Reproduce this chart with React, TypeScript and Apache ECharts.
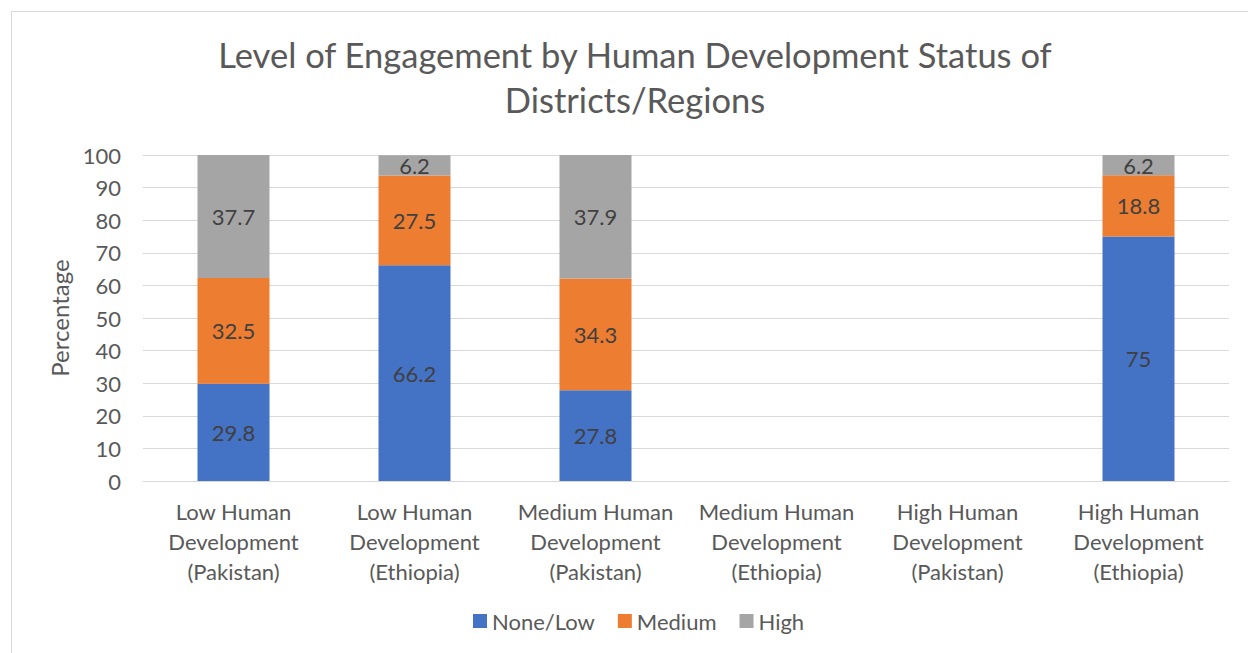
import React, { useEffect, useRef } from "react";
import * as echarts from "echarts";

const categories = [
  "Low Human\nDevelopment\n(Pakistan)",
  "Low Human\nDevelopment\n(Ethiopia)",
  "Medium Human\nDevelopment\n(Pakistan)",
  "Medium Human\nDevelopment\n(Ethiopia)",
  "High Human\nDevelopment\n(Pakistan)",
  "High Human\nDevelopment\n(Ethiopia)",
];
const noneLow: (number | null)[] = [29.8, 66.2, 27.8, null, null, 75];
const medium: (number | null)[] = [32.5, 27.5, 34.3, null, null, 18.8];
const high: (number | null)[] = [37.7, 6.2, 37.9, null, null, 6.2];
const seriesNames = ["None/Low", "Medium", "High"];
const colors = ["#4472C4", "#ED7D31", "#A5A5A5"];
const titleText = "Level of Engagement by Human Development Status of\nDistricts/Regions";

const FONT = "Lato, 'Open Sans', sans-serif";

export default function App() {
  const ref = useRef<HTMLDivElement>(null);
  useEffect(() => {
    document.body.style.margin = "0";
    const chart = echarts.init(ref.current!, null, { renderer: "svg" });
    const mk = (name: string, data: (number | null)[], color: string) => ({
      name,
      type: "bar",
      stack: "total",
      data,
      barWidth: 72,
      itemStyle: { color },
      label: {
        show: true,
        position: "inside",
        color: "#404040",
        fontSize: 22,
        fontFamily: FONT,
        formatter: (p: any) => (p.value == null ? "" : String(p.value)),
      },
    });
    chart.setOption({
      animation: false,
      textStyle: { fontFamily: FONT },
      graphic: [
        {
          type: "rect",
          shape: { x: 11.5, y: 11.5, width: 1260, height: 700 },
          style: { fill: "none", stroke: "#d9d9d9", lineWidth: 1 },
          silent: true,
        },
        {
          type: "text",
          x: 635,
          y: 32,
          silent: true,
          style: {
            text: titleText,
            fill: "#595959",
            fontSize: 34.5,
            fontFamily: FONT,
            lineHeight: 45,
            textAlign: "center",
            textVerticalAlign: "top",
          },
        },
      ],
      legend: {
        bottom: 16,
        left: 468,
        itemWidth: 14,
        itemHeight: 14,
        itemGap: 23,
        icon: "rect",
        textStyle: { fontSize: 22, color: "#595959", fontFamily: FONT },
        data: seriesNames,
      },
      grid: { left: 143, right: 19, top: 155, bottom: 172 },
      xAxis: {
        type: "category",
        data: categories,
        axisLine: { lineStyle: { color: "#d9d9d9" } },
        axisTick: { show: false },
        axisLabel: {
          color: "#595959",
          fontSize: 22,
          lineHeight: 30,
          margin: 15,
          interval: 0,
          fontFamily: FONT,
        },
      },
      yAxis: {
        type: "value",
        min: 0,
        max: 100,
        interval: 10,
        name: "Percentage",
        nameLocation: "middle",
        nameGap: 72,
        nameTextStyle: { fontSize: 24, color: "#595959", fontFamily: FONT },
        axisLine: { show: false },
        axisTick: { show: false },
        splitLine: { lineStyle: { color: "#d9d9d9", width: 1 } },
        axisLabel: { color: "#595959", fontSize: 22, margin: 22, fontFamily: FONT },
      },
      series: [
        mk(seriesNames[0], noneLow, colors[0]),
        mk(seriesNames[1], medium, colors[1]),
        mk(seriesNames[2], high, colors[2]),
      ],
    });
    return () => chart.dispose();
  }, []);
  return <div ref={ref} style={{ width: 1248, height: 653 }} />;
}
